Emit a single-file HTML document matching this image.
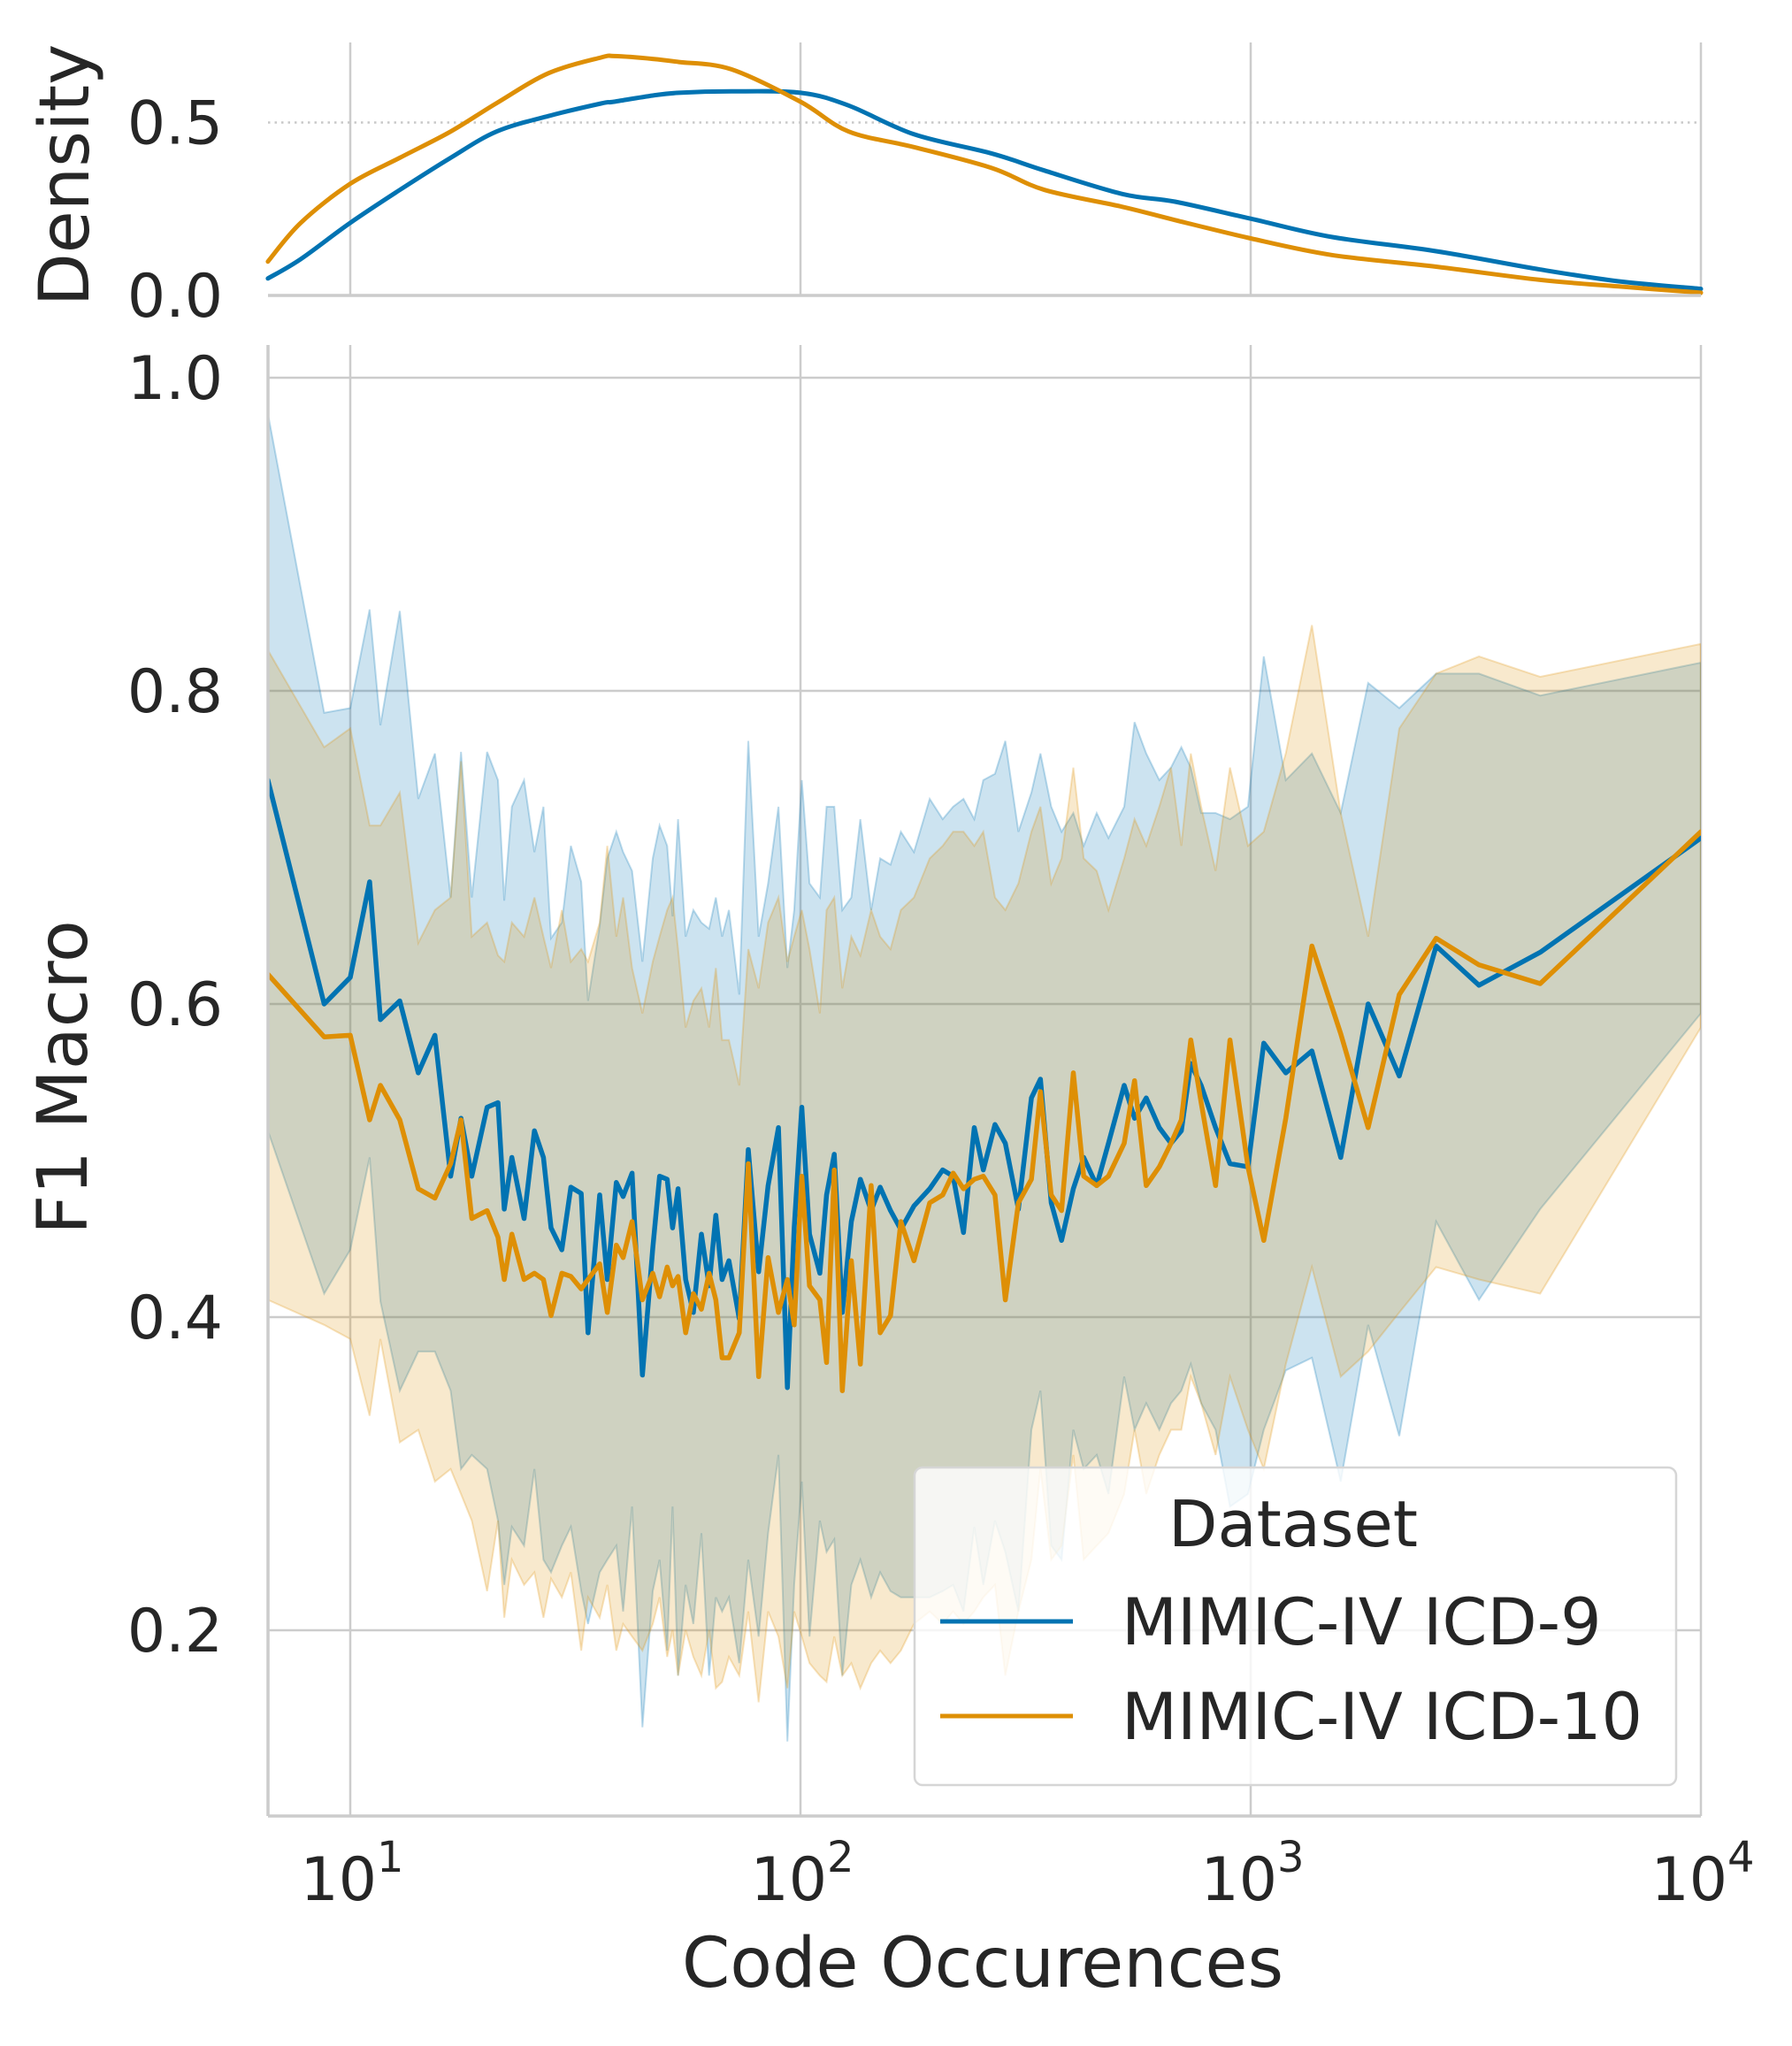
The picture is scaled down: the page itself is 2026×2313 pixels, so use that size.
<!DOCTYPE html>
<html><head><meta charset="utf-8">
<style>
html,body{margin:0;padding:0;background:#fff;}
svg{display:block;font-family:"DejaVu Sans","Liberation Sans",sans-serif;}
</style></head>
<body>
<svg id="chart" width="2026" height="2313" viewBox="0 0 2026 2313" xmlns="http://www.w3.org/2000/svg">
<rect x="0" y="0" width="2026" height="2313" fill="#fff"/>
<g id="grid"></g>
<g id="marks"></g>
<g id="axes"></g>
<g id="legend">
  <rect x="1034" y="1659" width="861" height="359" rx="9" fill="#fff" fill-opacity="0.8" stroke="#d6d6d6" stroke-width="2.5"/>
  <text x="1462" y="1748" font-size="72" fill="#262626" text-anchor="middle">Dataset</text>
  <line x1="1063" y1="1833" x2="1213" y2="1833" stroke="#0173b2" stroke-width="5"/>
  <text x="1268" y="1859" font-size="73" fill="#262626">MIMIC-IV ICD-9</text>
  <line x1="1063" y1="1940" x2="1213" y2="1940" stroke="#de8f05" stroke-width="5"/>
  <text x="1268" y="1966" font-size="73" fill="#262626">MIMIC-IV ICD-10</text>
</g>
</svg>
<script>
// log10(code occurrences) of each bin
const logOcc = [0.817,0.942,1.0,1.043,1.067,1.110,1.151,1.188,1.223,1.246,1.270,1.304,1.328,1.342,1.359,1.386,1.409,1.429,1.446,1.470,1.490,1.513,1.528,1.554,1.571,1.591,1.606,1.626,1.649,1.672,1.687,1.704,1.716,1.728,1.745,1.762,1.780,1.797,1.812,1.826,1.841,1.864,1.884,1.907,1.928,1.951,1.971,1.986,2.003,2.020,2.043,2.058,2.075,2.093,2.113,2.133,2.157,2.177,2.200,2.223,2.252,2.287,2.316,2.339,2.362,2.386,2.406,2.432,2.455,2.484,2.513,2.533,2.557,2.580,2.606,2.629,2.658,2.684,2.719,2.742,2.768,2.797,2.823,2.846,2.867,2.890,2.922,2.954,2.994,3.029,3.078,3.136,3.200,3.261,3.330,3.412,3.507,3.643,4.0];
const icd9Mean = [0.743,0.60,0.617,0.678,0.59,0.602,0.556,0.58,0.49,0.527,0.49,0.534,0.537,0.469,0.502,0.463,0.519,0.502,0.457,0.443,0.483,0.479,0.39,0.478,0.424,0.486,0.477,0.492,0.363,0.444,0.49,0.488,0.457,0.482,0.424,0.403,0.453,0.42,0.465,0.424,0.436,0.399,0.507,0.429,0.484,0.521,0.355,0.457,0.534,0.453,0.428,0.478,0.504,0.403,0.461,0.488,0.468,0.483,0.468,0.456,0.471,0.482,0.494,0.49,0.454,0.521,0.494,0.523,0.511,0.469,0.54,0.552,0.473,0.449,0.482,0.502,0.484,0.511,0.548,0.527,0.54,0.521,0.511,0.519,0.562,0.548,0.521,0.498,0.496,0.575,0.556,0.57,0.502,0.6,0.554,0.637,0.612,0.633,0.706];
const icd9Upper = [0.977,0.786,0.789,0.852,0.778,0.851,0.731,0.76,0.668,0.761,0.668,0.761,0.743,0.666,0.726,0.743,0.697,0.726,0.642,0.652,0.701,0.678,0.602,0.65,0.693,0.71,0.697,0.685,0.627,0.693,0.714,0.701,0.656,0.718,0.643,0.66,0.652,0.648,0.668,0.643,0.66,0.606,0.768,0.643,0.677,0.726,0.623,0.66,0.743,0.677,0.668,0.726,0.726,0.66,0.668,0.718,0.66,0.693,0.689,0.71,0.697,0.731,0.718,0.726,0.731,0.718,0.743,0.747,0.768,0.71,0.735,0.76,0.726,0.71,0.722,0.701,0.722,0.706,0.726,0.78,0.76,0.743,0.751,0.764,0.751,0.722,0.722,0.718,0.726,0.822,0.743,0.76,0.722,0.805,0.789,0.811,0.811,0.797,0.818];
const icd9Lower = [0.519,0.415,0.443,0.502,0.41,0.353,0.378,0.378,0.353,0.303,0.312,0.303,0.27,0.229,0.266,0.254,0.303,0.245,0.237,0.254,0.266,0.225,0.204,0.237,0.245,0.254,0.212,0.279,0.138,0.225,0.245,0.187,0.279,0.171,0.229,0.204,0.262,0.171,0.221,0.212,0.221,0.179,0.245,0.196,0.262,0.312,0.129,0.229,0.295,0.196,0.27,0.25,0.258,0.171,0.229,0.245,0.221,0.237,0.225,0.221,0.221,0.221,0.225,0.229,0.212,0.266,0.229,0.27,0.25,0.212,0.328,0.353,0.254,0.245,0.328,0.303,0.312,0.287,0.362,0.328,0.345,0.328,0.345,0.353,0.37,0.345,0.328,0.279,0.287,0.328,0.366,0.374,0.295,0.395,0.324,0.461,0.411,0.469,0.594];
const icd10Mean = [0.619,0.579,0.58,0.526,0.548,0.526,0.482,0.476,0.498,0.526,0.463,0.468,0.451,0.424,0.453,0.424,0.428,0.424,0.401,0.428,0.426,0.418,0.424,0.434,0.403,0.446,0.438,0.461,0.411,0.428,0.413,0.432,0.42,0.426,0.39,0.415,0.405,0.428,0.411,0.374,0.374,0.39,0.498,0.362,0.438,0.403,0.424,0.395,0.49,0.42,0.411,0.371,0.494,0.353,0.436,0.37,0.484,0.39,0.401,0.461,0.436,0.473,0.478,0.492,0.482,0.488,0.49,0.478,0.411,0.473,0.488,0.544,0.478,0.468,0.556,0.49,0.484,0.49,0.511,0.551,0.484,0.496,0.511,0.526,0.577,0.537,0.484,0.577,0.496,0.449,0.527,0.637,0.581,0.521,0.606,0.642,0.625,0.613,0.71];
const icd10Upper = [0.826,0.764,0.776,0.714,0.714,0.735,0.639,0.66,0.668,0.755,0.643,0.652,0.631,0.627,0.652,0.643,0.668,0.643,0.623,0.66,0.627,0.635,0.627,0.652,0.701,0.643,0.668,0.623,0.594,0.627,0.643,0.66,0.668,0.635,0.585,0.602,0.61,0.585,0.623,0.577,0.577,0.548,0.635,0.61,0.652,0.668,0.627,0.643,0.66,0.635,0.594,0.66,0.668,0.61,0.643,0.631,0.66,0.643,0.635,0.66,0.668,0.693,0.701,0.71,0.71,0.701,0.71,0.668,0.66,0.677,0.71,0.726,0.677,0.693,0.751,0.693,0.685,0.66,0.693,0.718,0.701,0.726,0.751,0.701,0.76,0.726,0.685,0.751,0.701,0.71,0.76,0.842,0.722,0.643,0.776,0.811,0.822,0.809,0.83];
const icd10Lower = [0.411,0.395,0.386,0.337,0.386,0.32,0.328,0.295,0.303,0.287,0.27,0.225,0.27,0.208,0.245,0.229,0.237,0.208,0.233,0.221,0.237,0.187,0.221,0.208,0.229,0.187,0.204,0.196,0.187,0.204,0.221,0.183,0.2,0.171,0.2,0.183,0.171,0.2,0.163,0.167,0.183,0.171,0.212,0.154,0.212,0.196,0.163,0.212,0.196,0.179,0.171,0.167,0.196,0.171,0.179,0.163,0.179,0.187,0.179,0.187,0.204,0.212,0.204,0.212,0.204,0.212,0.221,0.229,0.171,0.212,0.245,0.303,0.245,0.254,0.312,0.245,0.254,0.262,0.287,0.328,0.287,0.312,0.328,0.328,0.362,0.345,0.312,0.362,0.328,0.303,0.37,0.432,0.362,0.378,0.403,0.432,0.424,0.415,0.585];
// density (KDE) curves
const densLog = [0.817,0.89,1.0,1.11,1.223,1.325,1.441,1.557,1.586,1.672,1.730,1.846,2.0,2.107,2.252,2.426,2.542,2.716,2.832,3.0,3.18,3.412,3.643,3.817,4.0];
const densIcd9 = [0.049,0.105,0.21,0.305,0.398,0.474,0.519,0.555,0.56,0.578,0.586,0.59,0.586,0.549,0.466,0.41,0.361,0.293,0.271,0.222,0.169,0.128,0.075,0.041,0.019];
const densIcd10 = [0.098,0.21,0.323,0.398,0.474,0.556,0.643,0.688,0.692,0.684,0.675,0.654,0.56,0.474,0.429,0.368,0.305,0.256,0.218,0.165,0.117,0.083,0.045,0.026,0.008];
const yTicks = [0.2,0.4,0.6,0.8,1.0];
const yTickLabels = ["0.2","0.4","0.6","0.8","1.0"];
const dTicks = [0.0,0.5];
const dTickLabels = ["0.0","0.5"];
const xTicks = [1,2,3,4];

const NS="http://www.w3.org/2000/svg";
const X0=303,X1=1923,Y0=390,Y1=2053,DY0=48,DY1=334;
function xs(l){return 396+(l-1)*509;}
function ys(v){return 427+(1-v)*1770;}
function yd(d){return 334-d*391;}
function mk(tag,attrs,parent){const e=document.createElementNS(NS,tag);for(const k in attrs)e.setAttribute(k,attrs[k]);parent.appendChild(e);return e;}
const grid=document.getElementById('grid'),marks=document.getElementById('marks'),axes=document.getElementById('axes');

xTicks.forEach((t,i)=>{
  const g1=mk('line',{x1:xs(t),x2:xs(t),y1:Y0,y2:Y1,stroke:'#cccccc','stroke-width':2.5},grid);
  
  
  const g2=mk('line',{x1:xs(t),x2:xs(t),y1:DY0,y2:DY1,stroke:'#cccccc','stroke-width':2.5},grid);
  
  
  const lb=mk('text',{x:xs(t)+2,y:2148,'font-size':68,fill:'#262626','text-anchor':'middle'},axes);
  
  
  lb.textContent='10';
  const sp=mk('tspan',{dy:-32,'font-size':48},lb);
  sp.textContent=String(t);
});
yTicks.forEach((t,i)=>{
  const g=mk('line',{x1:X0,x2:X1,y1:ys(t),y2:ys(t),stroke:'#cccccc','stroke-width':2.5},grid);
  
  
  const lb=mk('text',{x:252,y:ys(t)+24,'font-size':68,fill:'#262626','text-anchor':'end'},axes);
  
  
  lb.textContent=yTickLabels[i];
});
dTicks.forEach((t,i)=>{
  if(t>0){
    const g=mk('line',{x1:X0,x2:X1,y1:yd(t),y2:yd(t),stroke:'#c8c8c8','stroke-width':2.5,'stroke-dasharray':'2.5 5'},grid);
    
    
  }
  const lb=mk('text',{x:252,y:yd(t)+24,'font-size':68,fill:'#262626','text-anchor':'end'},axes);
  
  
  lb.textContent=dTickLabels[i];
});

function band(up,lo,color,name){
  let d='M'+logOcc.map((l,i)=>xs(l).toFixed(1)+','+ys(up[i]).toFixed(1)).join('L');
  for(let i=logOcc.length-1;i>=0;i--)d+='L'+xs(logOcc[i]).toFixed(1)+','+ys(lo[i]).toFixed(1);
  d+='Z';
  const p=mk('path',{d:d,fill:color,'fill-opacity':0.2,stroke:color,'stroke-opacity':0.25,'stroke-width':2},marks);
  
  
}
function line(xsArr,vals,sx,sy,color,w,name,parent){
  const d='M'+xsArr.map((l,i)=>sx(l).toFixed(1)+','+sy(vals[i]).toFixed(1)).join('L');
  const p=mk('path',{d:d,fill:'none',stroke:color,'stroke-width':w,'stroke-linejoin':'round','stroke-linecap':'round'},parent);
  
  
}
function smooth(xsArr,vals,sx,sy,color,w,name,parent){
  const P=xsArr.map((l,i)=>[sx(l),sy(vals[i])]);
  let d='M'+P[0][0].toFixed(1)+','+P[0][1].toFixed(1);
  for(let i=0;i<P.length-1;i++){
    const p0=P[Math.max(0,i-1)],p1=P[i],p2=P[i+1],p3=P[Math.min(P.length-1,i+2)];
    const c1=[p1[0]+(p2[0]-p0[0])/6,p1[1]+(p2[1]-p0[1])/6];
    const c2=[p2[0]-(p3[0]-p1[0])/6,p2[1]-(p3[1]-p1[1])/6];
    d+='C'+c1[0].toFixed(1)+','+c1[1].toFixed(1)+' '+c2[0].toFixed(1)+','+c2[1].toFixed(1)+' '+p2[0].toFixed(1)+','+p2[1].toFixed(1);
  }
  const p=mk('path',{d:d,fill:'none',stroke:color,'stroke-width':w,'stroke-linecap':'round'},parent);
  
  
}
const clip=mk('clipPath',{id:'mainclip'},document.getElementById('chart'));
mk('rect',{x:X0,y:Y0,width:X1-X0,height:Y1-Y0},clip);
marks.setAttribute('clip-path','url(#mainclip)');
band(icd9Upper,icd9Lower,'#0173b2','icd9-ci-band');
band(icd10Upper,icd10Lower,'#de8f05','icd10-ci-band');
line(logOcc,icd9Mean,xs,ys,'#0173b2',5.5,'icd9-line',marks);
line(logOcc,icd10Mean,xs,ys,'#de8f05',5.5,'icd10-line',marks);
smooth(densLog,densIcd9,xs,yd,'#0173b2',5,'density-icd9-line',axes);
smooth(densLog,densIcd10,xs,yd,'#de8f05',5,'density-icd10-line',axes);

let s=mk('line',{x1:X0,x2:X1,y1:DY1,y2:DY1,stroke:'#cccccc','stroke-width':3.5},axes);


s=mk('line',{x1:X0,x2:X0,y1:Y0,y2:Y1,stroke:'#cccccc','stroke-width':3.5},axes);


s=mk('line',{x1:X0,x2:X1,y1:Y1,y2:Y1,stroke:'#cccccc','stroke-width':3.5},axes);



let t=mk('text',{x:1111,y:2246,'font-size':78,fill:'#262626','text-anchor':'middle'},axes);


t.textContent='Code Occurences';
t=mk('text',{x:0,y:0,'font-size':78,fill:'#262626','text-anchor':'middle',transform:'translate(98,1218) rotate(-90)'},axes);


t.textContent='F1 Macro';
t=mk('text',{x:0,y:0,'font-size':78,fill:'#262626','text-anchor':'middle',transform:'translate(100,198) rotate(-90)'},axes);


t.textContent='Density';
</script>
</body></html>
